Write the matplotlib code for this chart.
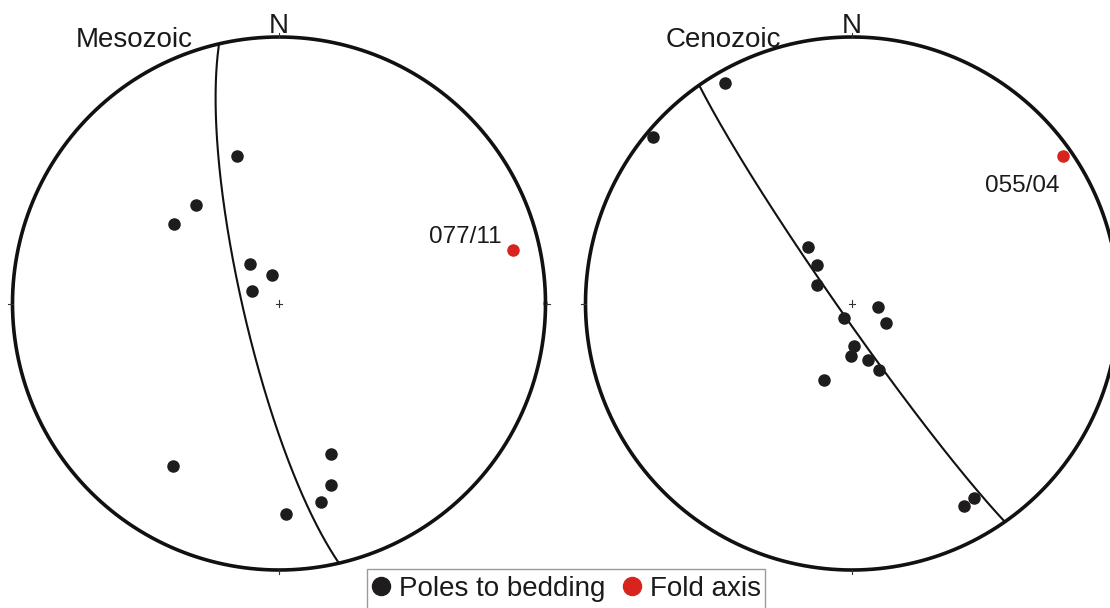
import numpy as np
import matplotlib
matplotlib.use("Agg")
import matplotlib.pyplot as plt
from matplotlib.lines import Line2D
from matplotlib.patches import Rectangle

plt.rcParams['font.family'] = ['Liberation Sans', 'DejaVu Sans']

# ---------------- data (trend/plunge in degrees, lower hemisphere) ----------------
titles = ["Mesozoic", "Cenozoic"]

meso_pole_trend = [344, 320, 307, 324, 346, 295, 213, 161, 164, 168, 178]
meso_pole_plunge = [42, 50, 49, 75, 81, 81, 28, 40, 30, 25, 22]

ceno_pole_trend = [330, 310, 322, 318, 298, 98, 119, 210, 177, 181, 164, 158, 200, 148, 151]
ceno_pole_plunge = [5, 3, 68, 74, 78, 82, 78, 85, 77, 74, 72, 68, 65, 15, 14]

fold_axis_trend = [77, 55]
fold_axis_plunge = [11, 4]
fold_axis_labels = ["077/11", "055/04"]

# best-fit girdle (dip direction / dip)
girdle_dipdir = [257, 235]
girdle_dip = [79, 86]

legend_labels = ["Poles to bedding", "Fold axis"]

BLACK = "#1f1c1d"
RED = "#d8241c"


# ---------------- equal-area (Schmidt) projection helpers ----------------
def line_to_xy(trend, plunge):
    t = np.radians(np.asarray(trend, float))
    p = np.radians(np.asarray(plunge, float))
    e = np.cos(p) * np.sin(t)
    n = np.cos(p) * np.cos(t)
    d = np.sin(p)
    k = 1.0 / np.sqrt(1.0 + d)
    return e * k, n * k


def plane_to_xy(dipdir, dip, num=361):
    dd = np.radians(dipdir)
    dp = np.radians(dip)
    s = dd - np.pi / 2
    sv = np.array([np.sin(s), np.cos(s), 0.0])
    dv = np.array([np.sin(dd) * np.cos(dp), np.cos(dd) * np.cos(dp), np.sin(dp)])
    t = np.linspace(0, np.pi, num)
    v = np.outer(np.cos(t), sv) + np.outer(np.sin(t), dv)
    k = 1.0 / np.sqrt(1.0 + v[:, 2])
    return v[:, 0] * k, v[:, 1] * k


# ---------------- layout ----------------
W, H = 1110, 608
fig = plt.figure(figsize=(W / 100, H / 100), dpi=100)
R = 266.5
LIM = 1.04
centers = [(279, 303.5), (852, 303.5)]

poles = [(meso_pole_trend, meso_pole_plunge), (ceno_pole_trend, ceno_pole_plunge)]
label_pos = [dict(x=502, y=243, ha="right"), dict(x=985, y=192, ha="left")]
title_pos = [76, 666]

for i, (cx, cy) in enumerate(centers):
    size = 2 * LIM * R
    ax = fig.add_axes([(cx - LIM * R) / W, (H - cy - LIM * R) / H, size / W, size / H])
    ax.set_xlim(-LIM, LIM)
    ax.set_ylim(-LIM, LIM)
    ax.set_aspect("equal")
    ax.axis("off")

    th = np.linspace(0, 2 * np.pi, 721)
    ax.plot(np.cos(th), np.sin(th), color="#111111", lw=2.6, clip_on=False, zorder=2)
    # cardinal ticks and centre cross
    for ang in range(0, 360, 90):
        a = np.radians(ang)
        ax.plot([np.sin(a) * 1.0, np.sin(a) * 1.016], [np.cos(a) * 1.0, np.cos(a) * 1.016],
                color="#333333", lw=0.8, clip_on=False)
    c = 0.012
    ax.plot([-c, c], [0, 0], color="#333333", lw=0.8)
    ax.plot([0, 0], [-c, c], color="#333333", lw=0.8)

    gx, gy = plane_to_xy(girdle_dipdir[i], girdle_dip[i])
    ax.plot(gx, gy, color="#111111", lw=1.5, zorder=3)

    px, py = line_to_xy(*poles[i])
    ax.plot(px, py, "o", color=BLACK, ms=8, ls="none", zorder=4, clip_on=False)

    fx, fy = line_to_xy(fold_axis_trend[i], fold_axis_plunge[i])
    ax.plot(fx, fy, "o", color=RED, ms=8, ls="none", zorder=4, clip_on=False)

    lp = label_pos[i]
    fig.text(lp["x"] / W, 1 - lp["y"] / H, fold_axis_labels[i], ha=lp["ha"], va="baseline",
             fontsize=17.5, color="#1a1a1a")
    fig.text(title_pos[i] / W, 1 - 47 / H, titles[i], ha="left", va="baseline",
             fontsize=20, color="#1a1a1a")
    fig.text(cx / W, 1 - 33 / H, "N", ha="center", va="baseline", fontsize=20, color="#1a1a1a")

# legend frame (extends past bottom edge, as in the reference)
fig.patches.append(Rectangle((367 / W, 1 - 620 / H), (765 - 367) / W, (620 - 569) / H,
                             transform=fig.transFigure, facecolor="white",
                             edgecolor="#9a9a9a", lw=1.0, zorder=5))
handles = [Line2D([], [], marker="o", ls="none", ms=13, color=BLACK),
           Line2D([], [], marker="o", ls="none", ms=13, color=RED)]
leg = fig.legend(handles, legend_labels, loc="center left", bbox_to_anchor=(371 / W, 1 - 589 / H),
                 ncol=2, fontsize=20, handlelength=0.7, handletextpad=0.3, columnspacing=0.62,
                 borderpad=0, borderaxespad=0, frameon=False)
leg.set_zorder(6)
for t in leg.get_texts():
    t.set_color("#1a1a1a")

fig.savefig("out.png", dpi=100, facecolor="white")
